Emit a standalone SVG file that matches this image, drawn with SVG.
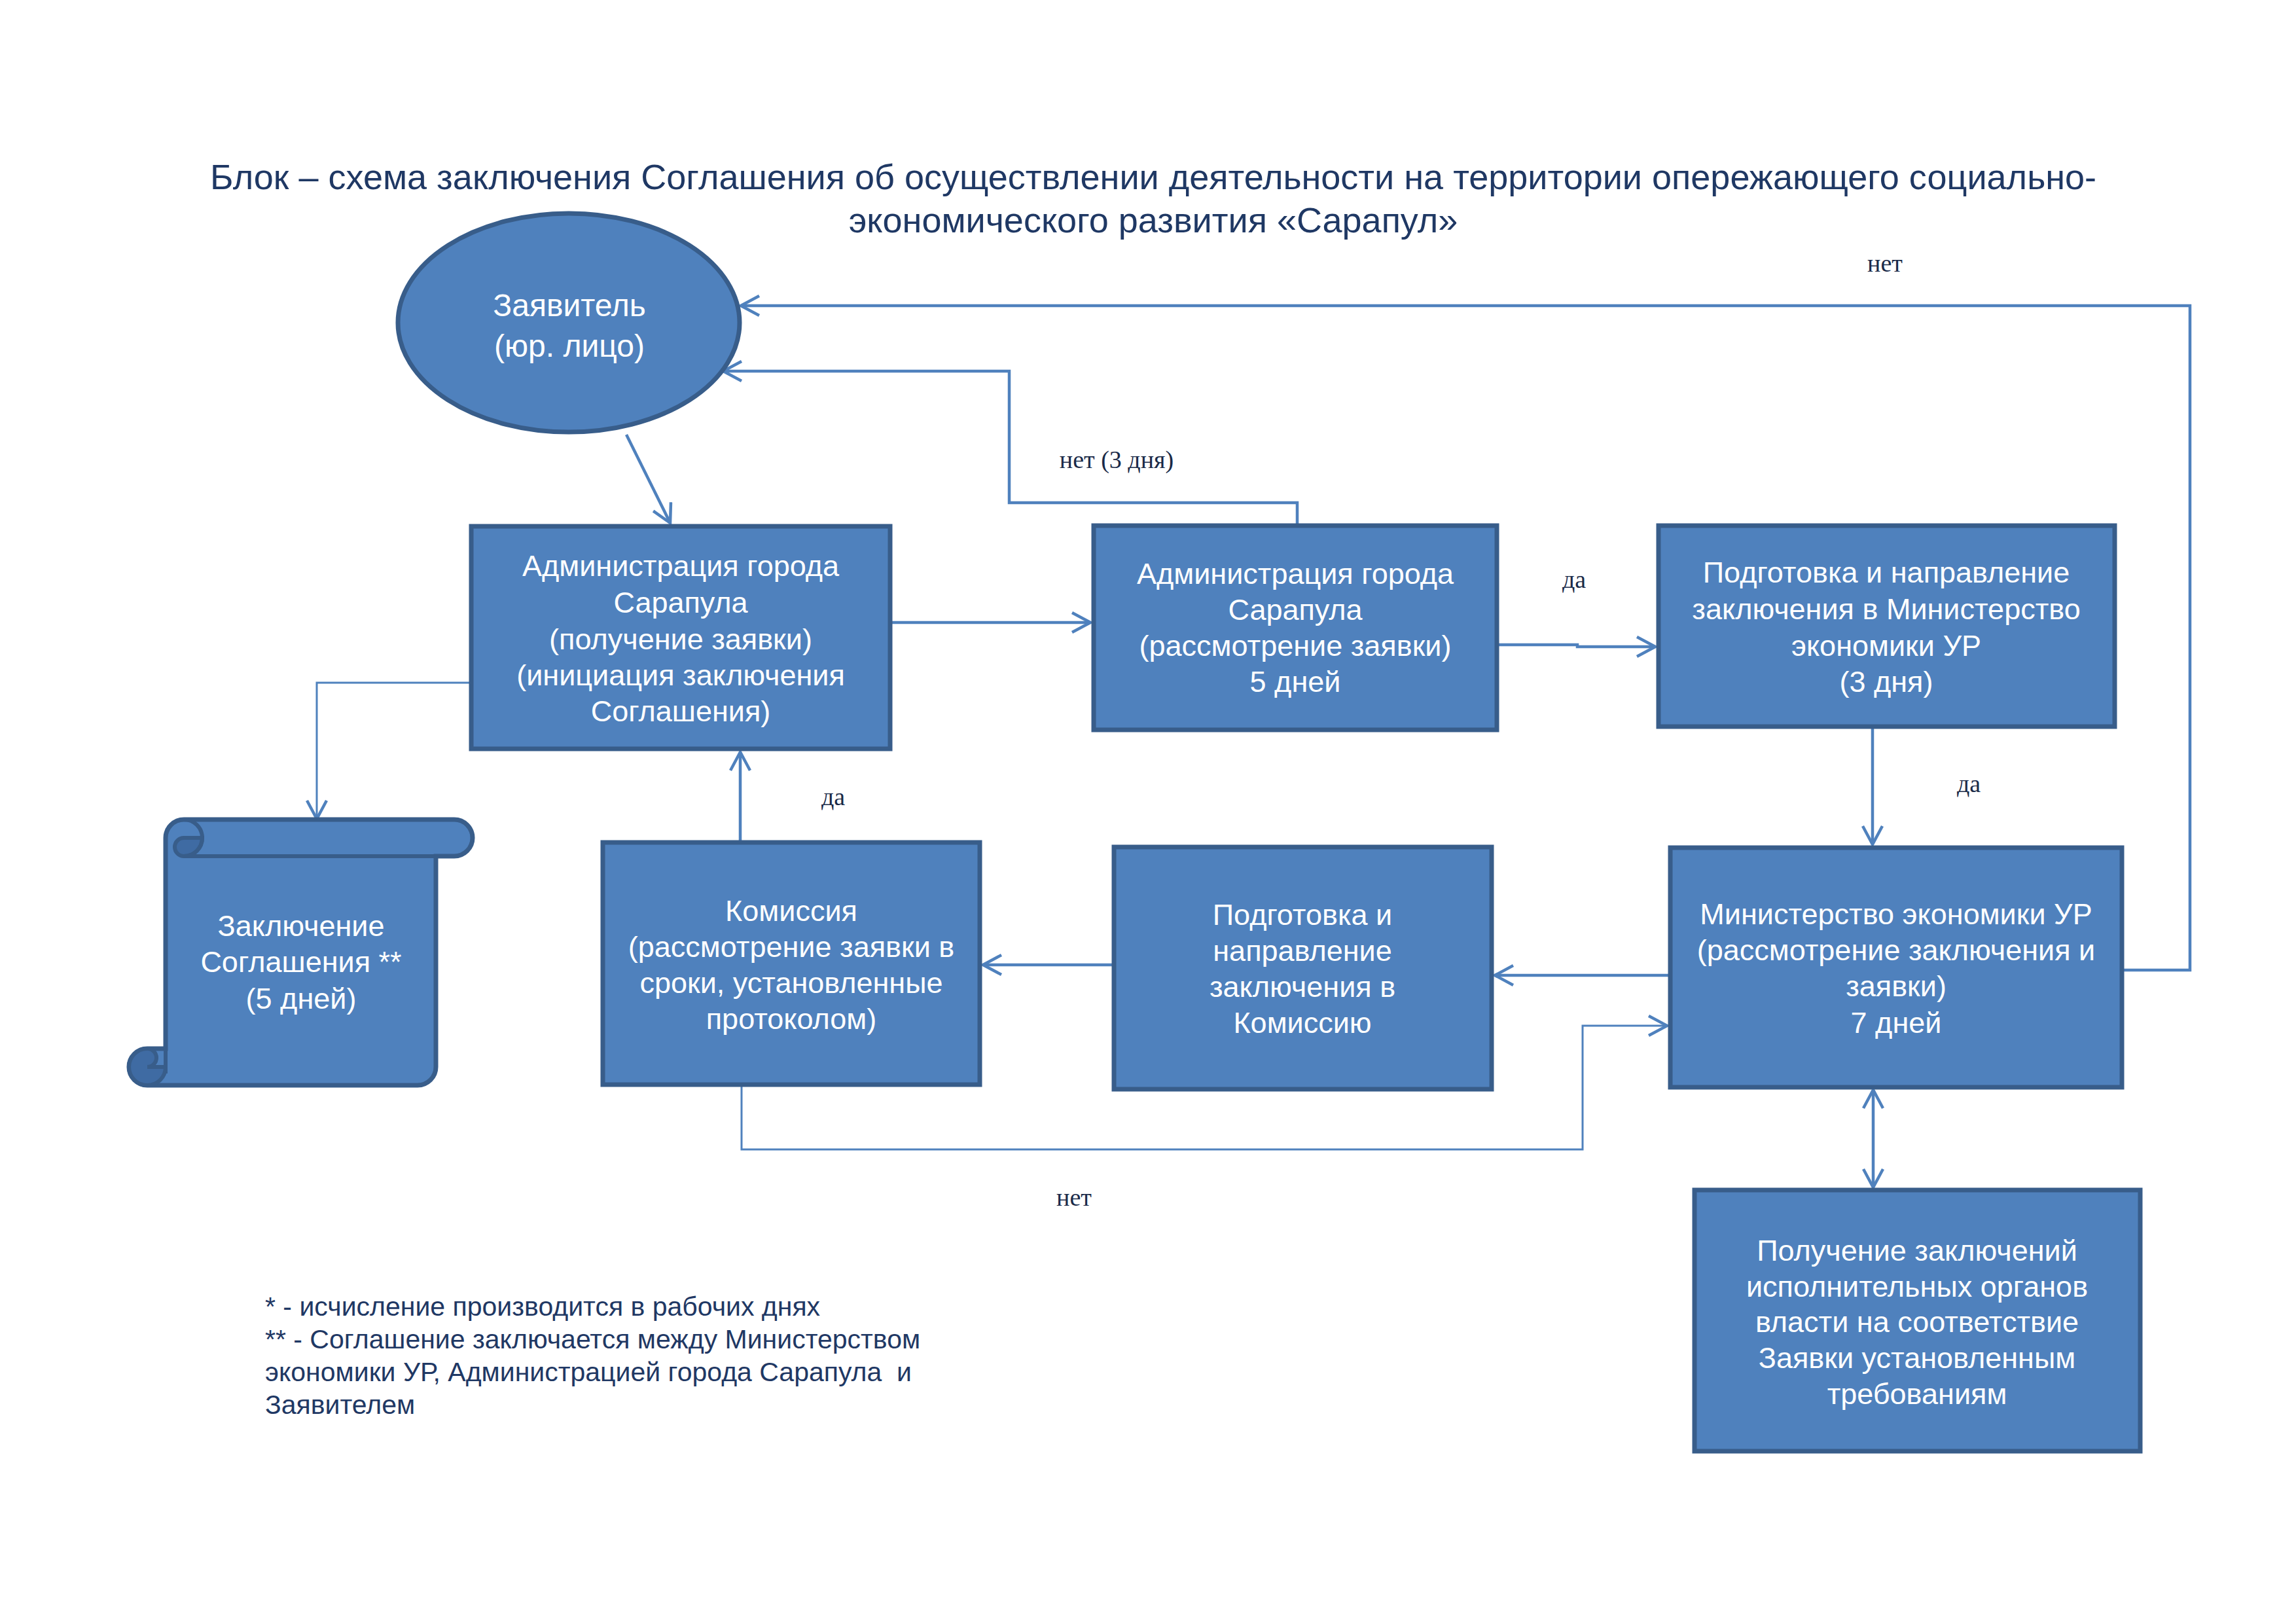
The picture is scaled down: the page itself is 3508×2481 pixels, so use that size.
<svg xmlns="http://www.w3.org/2000/svg" width="3508" height="2481" viewBox="0 0 3508 2481">
<style>
.node{fill:#4F81BD;stroke:#385D8A;stroke-width:7}
.nt{font-family:"Liberation Sans",Arial,sans-serif;font-size:45px;fill:#FFFFFF;text-anchor:middle}
.title{font-family:"Liberation Sans",Arial,sans-serif;font-size:54px;fill:#1F3864;text-anchor:middle}
.note{font-family:"Liberation Sans",Arial,sans-serif;font-size:41px;fill:#1F3864}
.lbl{font-family:"Liberation Serif","Times New Roman",serif;font-size:38px;fill:#1A2A48;text-anchor:middle}
.c{fill:none;stroke:#4F81BD;stroke-width:4.5;stroke-linejoin:miter}
.thin{stroke-width:3}
.arr{marker-end:url(#ah)}
.dark{fill:#3F6BA3;stroke:#385D8A;stroke-width:6}
</style>
<defs>
<marker id="ah" viewBox="0 0 34 34" refX="31" refY="17" markerWidth="34" markerHeight="34" markerUnits="userSpaceOnUse" orient="auto-start-reverse">
<path d="M3,2 L31,17 L3,32" fill="none" stroke="#4F81BD" stroke-width="4.5"/>
</marker>
</defs>
<rect width="3508" height="2481" fill="#FFFFFF"/>
<g id="title">
<text class="title" x="1762" y="289">Блок – схема заключения Соглашения об осуществлении деятельности на территории опережающего социально-</text>
<text class="title" x="1762" y="355">экономического развития «Сарапул»</text>
</g>
<g id="connectors">
<path class="c arr" d="M957,664 L1024,799"/>
<path class="c arr" d="M1363,951 L1666,951"/>
<path class="c arr" d="M2290,985 L2410,985 L2410,988 L2529,988"/>
<path class="c arr" d="M2861,1113 L2861,1290"/>
<path class="c arr" d="M2549,1490 L2284,1490"/>
<path class="c arr" d="M1699,1474 L1502,1474"/>
<path class="c arr" d="M1131,1284 L1131,1149"/>
<path class="c thin arr" d="M717,1043 L484,1043 L484,1251"/>
<path class="c" d="M2862,1665 L2862,1814" marker-start="url(#ah)" marker-end="url(#ah)"/>
<path class="c arr" d="M1982,800 L1982,768 L1542,768 L1542,567 L1105,567"/>
<path class="c arr" d="M3245,1482 L3346,1482 L3346,467 L1132,467"/>
<path class="c thin arr" d="M1133,1660 L1133,1756 L2418,1756 L2418,1567 L2547,1567"/>
</g>
<g id="labels">
<text class="lbl" x="2880" y="415">нет</text>
<text class="lbl" x="1706" y="715">нет (3 дня)</text>
<text class="lbl" x="2405" y="898">да</text>
<text class="lbl" x="3008" y="1210">да</text>
<text class="lbl" x="1273" y="1230">да</text>
<text class="lbl" x="1641" y="1842">нет</text>
</g>
<g id="applicant">
<ellipse class="node" cx="869" cy="493" rx="261" ry="167"/>
<text class="nt" style="font-size:48px"><tspan x="870" y="483">Заявитель</tspan><tspan x="870" y="545">(юр. лицо)</tspan></text>
</g>
<g id="admin-receive">
<rect class="node" x="720" y="804" width="640" height="340"/>
<text class="nt"><tspan x="1040" y="880">Администрация города</tspan><tspan x="1040" y="936">Сарапула</tspan><tspan x="1040" y="992">(получение заявки)</tspan><tspan x="1040" y="1047">(инициация заключения</tspan><tspan x="1040" y="1102">Соглашения)</tspan></text>
</g>
<g id="admin-review">
<rect class="node" x="1671" y="803" width="616" height="312"/>
<text class="nt"><tspan x="1979" y="892">Администрация города</tspan><tspan x="1979" y="947">Сарапула</tspan><tspan x="1979" y="1002">(рассмотрение заявки)</tspan><tspan x="1979" y="1057">5 дней</tspan></text>
</g>
<g id="prepare-ministry">
<rect class="node" x="2534" y="803" width="697" height="307"/>
<text class="nt"><tspan x="2882" y="890">Подготовка и направление</tspan><tspan x="2882" y="946">заключения в Министерство</tspan><tspan x="2882" y="1002">экономики УР</tspan><tspan x="2882" y="1057">(3 дня)</tspan></text>
</g>
<g id="ministry">
<rect class="node" x="2552" y="1295" width="690" height="366"/>
<text class="nt"><tspan x="2897" y="1412">Министерство экономики УР</tspan><tspan x="2897" y="1467">(рассмотрение заключения и</tspan><tspan x="2897" y="1522">заявки)</tspan><tspan x="2897" y="1578">7 дней</tspan></text>
</g>
<g id="prepare-commission">
<rect class="node" x="1702" y="1294" width="577" height="370"/>
<text class="nt"><tspan x="1990" y="1413">Подготовка и</tspan><tspan x="1990" y="1468">направление</tspan><tspan x="1990" y="1523">заключения в</tspan><tspan x="1990" y="1578">Комиссию</tspan></text>
</g>
<g id="commission">
<rect class="node" x="921" y="1287" width="576" height="370"/>
<text class="nt"><tspan x="1209" y="1407">Комиссия</tspan><tspan x="1209" y="1462">(рассмотрение заявки в</tspan><tspan x="1209" y="1517">сроки, установленные</tspan><tspan x="1209" y="1572">протоколом)</tspan></text>
</g>
<g id="executive-opinions">
<rect class="node" x="2589" y="1818" width="681" height="399"/>
<text class="nt"><tspan x="2929" y="1926">Получение заключений</tspan><tspan x="2929" y="1981">исполнительных органов</tspan><tspan x="2929" y="2035">власти на соответствие</tspan><tspan x="2929" y="2090">Заявки установленным</tspan><tspan x="2929" y="2145">требованиям</tspan></text>
</g>
<g id="agreement-scroll">
<path class="node" stroke-width="6" d="M253,1602 L253,1280 A28,28 0 0 1 281,1252 L694,1252 A28,28 0 0 1 694,1308 L666,1308 L666,1630 A28,28 0 0 1 638,1658 L225,1658 A28,28 0 0 1 225,1602 Z"/>
<path class="dark" d="M309,1280 A28,28 0 0 1 281,1308 A14,14 0 0 1 281,1280 Z"/>
<path class="dark" d="M253,1630 A28,28 0 1 1 225,1602 A14,14 0 0 1 225,1630 Z"/>
<path fill="none" stroke="#385D8A" stroke-width="6" d="M281,1252 A28,28 0 0 1 281,1308 M666,1308 L281,1308 M253,1602 L253,1640"/>
<text class="nt"><tspan x="460" y="1430">Заключение</tspan><tspan x="460" y="1485">Соглашения **</tspan><tspan x="460" y="1541">(5 дней)</tspan></text>
</g>
<g id="notes">
<text class="note" x="405" y="2010">* - исчисление производится в рабочих днях</text>
<text class="note" x="405" y="2060">** - Соглашение заключается между Министерством</text>
<text class="note" x="405" y="2110" xml:space="preserve">экономики УР, Администрацией города Сарапула  и</text>
<text class="note" x="405" y="2160">Заявителем</text>
</g>
</svg>
